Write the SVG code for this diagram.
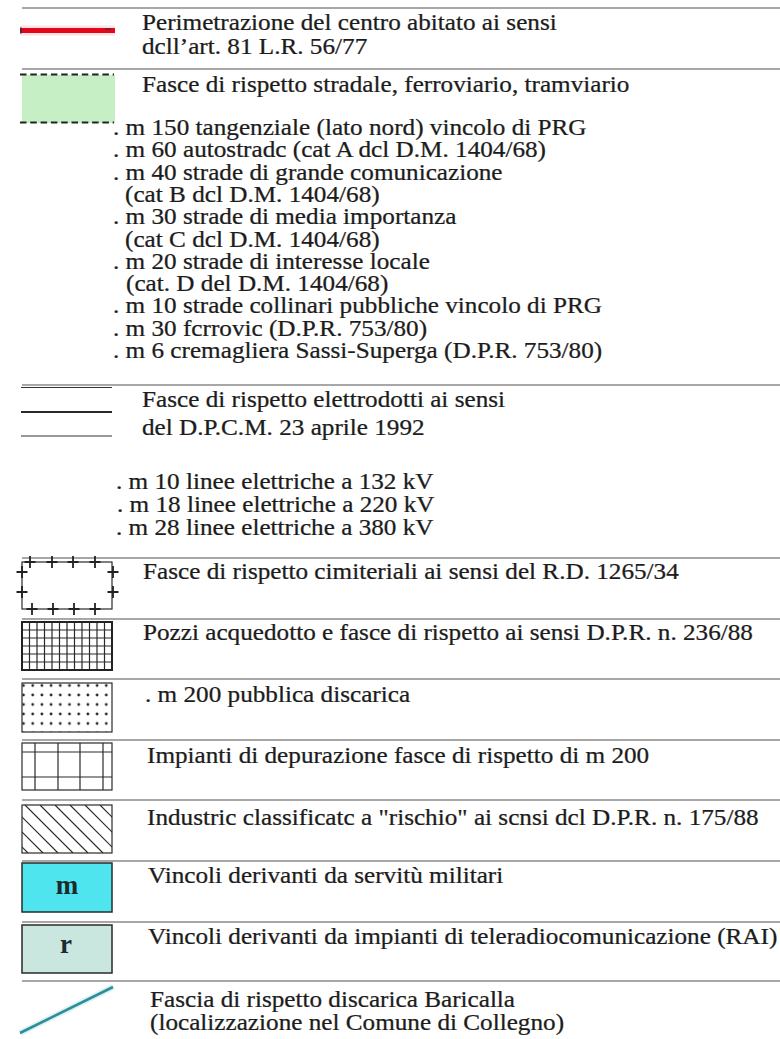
<svg xmlns="http://www.w3.org/2000/svg" width="780" height="1039" viewBox="0 0 780 1039">
<style>
.t{font-family:"Liberation Serif","Times New Roman",serif;font-size:22.5px;fill:#1c1c1c;stroke:#1c1c1c;stroke-width:0.25}
.b{font-family:"Liberation Serif","Times New Roman",serif;font-weight:bold;fill:#1b2b30;text-anchor:middle}
.sep{stroke:#8a8a8a;stroke-width:1.3;fill:none}
.k{stroke:#2a2a2a;stroke-width:1.2;fill:none}
.cr{stroke:#222;stroke-width:1.8;fill:none}
</style>
<defs>
<path id="cross" d="M-5.5,0H5.5M0,-6V6"/>
<pattern id="dots" patternUnits="userSpaceOnUse" x="18.9" y="680.75" width="9.2" height="9.5">
<circle cx="4.6" cy="4.75" r="1.4" fill="#222"/>
</pattern>
<clipPath id="hclip"><rect x="22" y="805" width="90" height="48"/></clipPath>
</defs>
<rect width="780" height="1039" fill="#fff"/>

<g id="separators" class="sep">
<line x1="22" y1="8" x2="780" y2="8"/>
<line x1="22" y1="69" x2="780" y2="69"/>
<line x1="22" y1="385" x2="780" y2="385"/>
<line x1="22" y1="558" x2="780" y2="558"/>
<line x1="22" y1="619" x2="780" y2="619"/>
<line x1="22" y1="679" x2="780" y2="679"/>
<line x1="22" y1="740" x2="780" y2="740"/>
<line x1="22" y1="800" x2="780" y2="800"/>
<line x1="22" y1="861" x2="780" y2="861"/>
<line x1="22" y1="922" x2="780" y2="922"/>
<line x1="22" y1="981" x2="780" y2="981"/>
</g>

<g id="perimetrazione">
<line x1="20" y1="30.5" x2="115" y2="30.5" stroke="#f7c6cc" stroke-width="10" opacity="0.5"/>
<line x1="20" y1="30.5" x2="115" y2="30.5" stroke="#e3061d" stroke-width="5"/>
<line x1="21" y1="27.5" x2="21" y2="33.5" stroke="#333" stroke-width="1.5"/>
<line x1="105" y1="29" x2="111" y2="29" stroke="#333" stroke-width="1.2"/>
<text class="t" transform="translate(142 29.5) scale(1.12 1)">Perimetrazione del centro abitato ai sensi</text>
<text class="t" transform="translate(142 53.5) scale(1.12 1)">dcll’art. 81 L.R. 56/77</text>
</g>

<g id="fasce-stradali">
<rect x="22" y="75" width="93" height="48" fill="#c6efc6"/>
<line x1="20" y1="74.5" x2="114" y2="74.5" stroke="#222" stroke-width="2" stroke-dasharray="6.5 3.8"/>
<line x1="20" y1="122.5" x2="114" y2="122.5" stroke="#222" stroke-width="2" stroke-dasharray="6.5 3.8"/>
<text class="t" transform="translate(142 92) scale(1.12 1)">Fasce di rispetto stradale, ferroviario, tramviario</text>
<text class="t" transform="translate(113 135) scale(1.12 1)">. m 150 tangenziale (lato nord) vincolo di PRG</text>
<text class="t" transform="translate(113 157.3) scale(1.12 1)">. m 60 autostradc (cat A dcl D.M. 1404/68)</text>
<text class="t" transform="translate(113 179.6) scale(1.12 1)">. m 40 strade di grande comunicazione</text>
<text class="t" transform="translate(125 201.9) scale(1.12 1)">(cat B dcl D.M. 1404/68)</text>
<text class="t" transform="translate(113 224.2) scale(1.12 1)">. m 30 strade di media importanza</text>
<text class="t" transform="translate(125 246.5) scale(1.12 1)">(cat C dcl D.M. 1404/68)</text>
<text class="t" transform="translate(113 268.8) scale(1.12 1)">. m 20 strade di interesse locale</text>
<text class="t" transform="translate(126 291.1) scale(1.12 1)">(cat. D del D.M. 1404/68)</text>
<text class="t" transform="translate(113 313.4) scale(1.12 1)">. m 10 strade collinari pubbliche vincolo di PRG</text>
<text class="t" transform="translate(113 335.7) scale(1.12 1)">. m 30 fcrrovic (D.P.R. 753/80)</text>
<text class="t" transform="translate(113 358) scale(1.12 1)">. m 6 cremagliera Sassi-Superga (D.P.R. 753/80)</text>
</g>

<g id="elettrodotti">
<line x1="21" y1="387.5" x2="112" y2="387.5" stroke="#333" stroke-width="1.2"/>
<line x1="21" y1="412" x2="112" y2="412" stroke="#2a2a2a" stroke-width="2.2"/>
<line x1="21" y1="436" x2="112" y2="436" stroke="#333" stroke-width="1.2"/>
<text class="t" transform="translate(142 407) scale(1.12 1)">Fasce di rispetto elettrodotti ai sensi</text>
<text class="t" transform="translate(142 435) scale(1.12 1)">del D.P.C.M. 23 aprile 1992</text>
<text class="t" transform="translate(116 489) scale(1.12 1)">. m 10 linee elettriche a 132 kV</text>
<text class="t" transform="translate(117 512) scale(1.12 1)">. m 18 linee elettriche a 220 kV</text>
<text class="t" transform="translate(116 535) scale(1.12 1)">. m 28 linee elettriche a 380 kV</text>
</g>

<g id="cimiteriali">
<rect class="k" x="22" y="562" width="90" height="47"/>
<g class="cr">
<use href="#cross" x="30" y="562"/><use href="#cross" x="52" y="562"/><use href="#cross" x="73" y="562"/><use href="#cross" x="95" y="562"/>
<use href="#cross" x="32" y="609"/><use href="#cross" x="53" y="609"/><use href="#cross" x="74" y="609"/><use href="#cross" x="95" y="609"/>
<use href="#cross" x="22" y="572"/><use href="#cross" x="22" y="592"/>
<use href="#cross" x="113" y="572"/><use href="#cross" x="113" y="592"/>
</g>
<text class="t" transform="translate(143 579) scale(1.12 1)">Fasce di rispetto cimiteriali ai sensi del R.D. 1265/34</text>
</g>

<g id="pozzi">
<path class="k" stroke-width="1" d="M29.5,622V670M37,622V670M44.5,622V670M52,622V670M59.5,622V670M67,622V670M74.5,622V670M82,622V670M89.5,622V670M97,622V670M104.5,622V670M22,630H112M22,638H112M22,646H112M22,654H112M22,662H112"/>
<rect x="22" y="622" width="90" height="48" fill="none" stroke="#222" stroke-width="2"/>
<text class="t" transform="translate(143 640) scale(1.12 1)">Pozzi acquedotto e fasce di rispetto ai sensi D.P.R. n. 236/88</text>
</g>

<g id="discarica">
<rect x="22" y="683" width="90" height="49" fill="url(#dots)"/>
<rect class="k" x="22" y="683" width="90" height="49"/>
<text class="t" transform="translate(145 702) scale(1.12 1)">. m 200 pubblica discarica</text>
</g>

<g id="depurazione">
<rect class="k" x="22" y="743" width="90" height="47"/>
<path class="k" d="M35,743V790M58,743V790M80,743V790M103,743V790M22,752H112M22,777H112"/>
<text class="t" transform="translate(147 763) scale(1.12 1)">Impianti di depurazione fasce di rispetto di m 200</text>
</g>

<g id="rischio">
<path class="k" clip-path="url(#hclip)" d="M-20,805l48,48M-5,805l48,48M10,805l48,48M25,805l48,48M40,805l48,48M55,805l48,48M70,805l48,48M85,805l48,48M100,805l48,48"/>
<rect class="k" x="22" y="805" width="90" height="48"/>
<text class="t" transform="translate(147 825) scale(1.12 1)">Industric classificatc a "rischio" ai scnsi dcl D.P.R. n. 175/88</text>
</g>

<g id="militari">
<rect x="22" y="863" width="90" height="49" fill="#4fe5ee" stroke="#2a2a2a" stroke-width="1.5"/>
<text class="b" x="67" y="894" font-size="27">m</text>
<text class="t" transform="translate(148 883) scale(1.12 1)">Vincoli derivanti da servitù militari</text>
</g>

<g id="rai">
<rect x="22" y="925" width="90" height="48" fill="#c9e7df" stroke="#2a2a2a" stroke-width="1.5"/>
<text class="b" x="66" y="953" font-size="27">r</text>
<text class="t" transform="translate(148 944) scale(1.12 1)">Vincoli derivanti da impianti di teleradiocomunicazione (RAI)</text>
</g>

<g id="baricalla">
<path d="M20,1033Q62,1012 113,987" fill="none" stroke="#a9dfe2" stroke-width="6" opacity="0.4"/>
<path d="M20,1033Q62,1012 113,987" fill="none" stroke="#2e8d9b" stroke-width="2.6"/>
<text class="t" transform="translate(150 1007) scale(1.12 1)">Fascia di rispetto discarica Baricalla</text>
<text class="t" transform="translate(150 1030) scale(1.12 1)">(localizzazione nel Comune di Collegno)</text>
</g>
</svg>
